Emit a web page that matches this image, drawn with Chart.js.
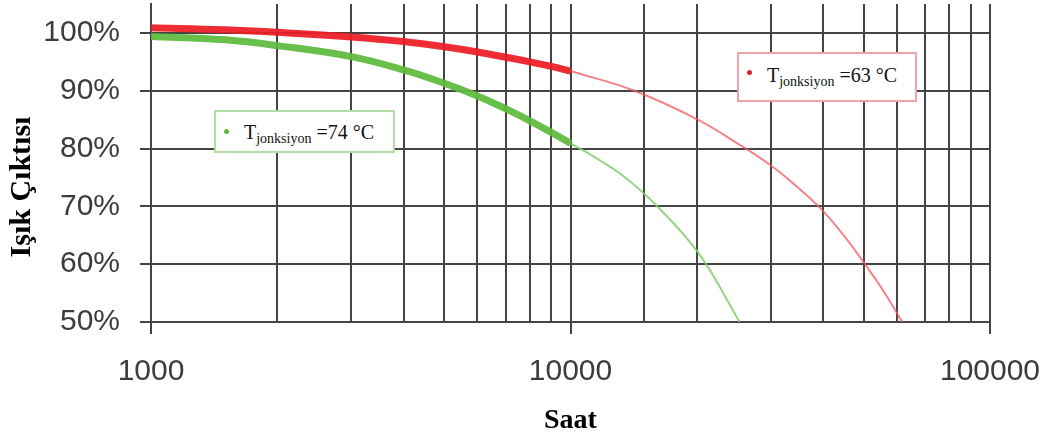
<!DOCTYPE html>
<html><head><meta charset="utf-8">
<script src="https://cdn.jsdelivr.net/npm/chart.js@4.4.0/dist/chart.umd.min.js"></script>
<style>
html,body{margin:0;padding:0;background:#fff;}
#wrap{position:relative;width:1049px;height:439px;}
canvas{display:block;}
.lg{position:absolute;box-sizing:border-box;background:#fff;font-family:"Liberation Serif","Times New Roman",serif;font-size:20px;color:#111;white-space:nowrap;}
.lg .dot{position:absolute;width:5px;height:5px;border-radius:50%;}
.lg .txt{position:absolute;line-height:20px;}
.lg sub{font-size:14px;vertical-align:-4px;line-height:0;}
</style></head>
<body>
<div id="wrap">
<canvas id="c" width="1049" height="439"></canvas>
<div class="lg" style="left:214px;top:110px;width:181px;height:43px;border:2px solid #b2dca2;">
  <span class="dot" style="left:7.5px;top:16.5px;background:#5cb83c;"></span>
  <span class="txt" style="left:28px;top:10px;">T<sub>jonksiyon</sub> =74 °C</span>
</div>
<div class="lg" style="left:737px;top:52px;width:180px;height:50px;border:2px solid #f2a2a8;">
  <span class="dot" style="left:7.5px;top:15.5px;background:#e8202a;"></span>
  <span class="txt" style="left:28px;top:11px;">T<sub>jonksiyon</sub> =63 °C</span>
</div>
</div>
<script>
// ---- data (hours vs. light output %) ----
const hoursMeasured = [1000,1500,2000,3000,4000,5000,6000,7000,8000,9000,10000];
const red63Measured = [100.9,100.55,100.1,99.3,98.5,97.6,96.7,95.8,95.0,94.2,93.4];
const green74Measured = [99.4,98.8,97.8,95.9,93.6,91.3,89.1,86.9,84.8,82.8,80.9];

const hoursRedProjected = [10000,14200,20000,25000,30000,34400,39500,44900,50000,55900,61800];
const red63Projected = [93.4,90.0,85.1,80.9,77.1,73.6,69.6,64.9,60.3,55.2,50.0];

const hoursGreenProjected = [10000,11600,13500,15900,20200,25300];
const green74Projected = [80.9,78.2,75.0,70.4,61.9,50.0];

const xTickLabels = [1000,10000,100000];
const yTickLabels = [50,60,70,80,90,100];

const xAxisTitle = 'Saat';
const yAxisTitle = 'Işık Çıktısı';

function pts(xs, ys){ return xs.map((x,i)=>({x:x,y:ys[i]})); }

const yTitlePlugin = {
  id:'yTitle',
  afterDraw(chart){
    const ctx = chart.ctx;
    ctx.save();
    ctx.translate(22, 187);
    ctx.rotate(-Math.PI/2);
    ctx.font = 'bold 30px "Liberation Serif", "Times New Roman", serif';
    ctx.fillStyle = '#000';
    ctx.textAlign = 'center';
    ctx.textBaseline = 'middle';
    ctx.fillText(yAxisTitle, 0, 0);
    ctx.restore();
  }
};

const DARK = '#444444';
new Chart(document.getElementById('c'), {
  type:'line',
  data:{
    datasets:[
      {label:'63 measured', data:pts(hoursMeasured, red63Measured), borderColor:'rgba(236,28,36,0.93)', borderWidth:7, pointRadius:0, tension:0.4, borderCapStyle:'butt'},
      {label:'63 projected', data:pts(hoursRedProjected, red63Projected), borderColor:'rgba(238,90,100,0.75)', borderWidth:2, pointRadius:0, tension:0.4},
      {label:'74 measured', data:pts(hoursMeasured, green74Measured), borderColor:'rgba(92,186,60,0.93)', borderWidth:7, pointRadius:0, tension:0.4, borderCapStyle:'butt'},
      {label:'74 projected', data:pts(hoursGreenProjected, green74Projected), borderColor:'rgba(130,205,110,0.85)', borderWidth:2, pointRadius:0, tension:0.4}
    ]
  },
  options:{
    responsive:false, animation:false, devicePixelRatio:1,
    layout:{autoPadding:false, padding:{top:4,right:59,bottom:0,left:0}},
    plugins:{legend:{display:false}, tooltip:{enabled:false}},
    scales:{
      x:{
        type:'logarithmic', min:1000, max:100000,
        afterFit(s){ s.height = 117; s.paddingLeft = 0; s.paddingRight = 0; s.paddingTop = 0; s.paddingBottom = 0; },
        border:{display:true, color:DARK, width:2},
        grid:{
          color:DARK, lineWidth:2,
          tickLength:12,
          tickColor:(c)=> (c.tick && xTickLabels.includes(c.tick.value)) ? DARK : 'rgba(0,0,0,0)',
          tickWidth:2
        },
        ticks:{
          autoSkip:false, maxRotation:0, padding:20, color:'#3c3c3c',
          font:{family:'"Liberation Sans", Arial, sans-serif', size:30},
          callback:(v)=> xTickLabels.includes(v) ? String(v) : ''
        },
        title:{display:true, text:xAxisTitle, color:'#000', padding:{top:0,bottom:1},
          font:{family:'"Liberation Serif", "Times New Roman", serif', size:28, weight:'bold'}}
      },
      y:{
        min:50, max:105,
        afterFit(s){ s.width = 151; s.paddingLeft = 0; s.paddingRight = 0; s.paddingTop = 0; s.paddingBottom = 0; },
        border:{display:true, color:DARK, width:2},
        grid:{
          color:(c)=>{ const v=c.tick.value; return (v%10===0 || v===105) ? DARK : '#c4c4c4'; },
          lineWidth:2,
          tickLength:11,
          tickColor:(c)=> (c.tick && yTickLabels.includes(c.tick.value)) ? DARK : 'rgba(0,0,0,0)',
          tickWidth:2
        },
        ticks:{
          stepSize:5, padding:20, color:'#3c3c3c',
          font:{family:'"Liberation Sans", Arial, sans-serif', size:30},
          callback:(v)=> yTickLabels.includes(v) ? v+'%' : ''
        }
      }
    }
  },
  plugins:[yTitlePlugin]
});
</script>
</body></html>
